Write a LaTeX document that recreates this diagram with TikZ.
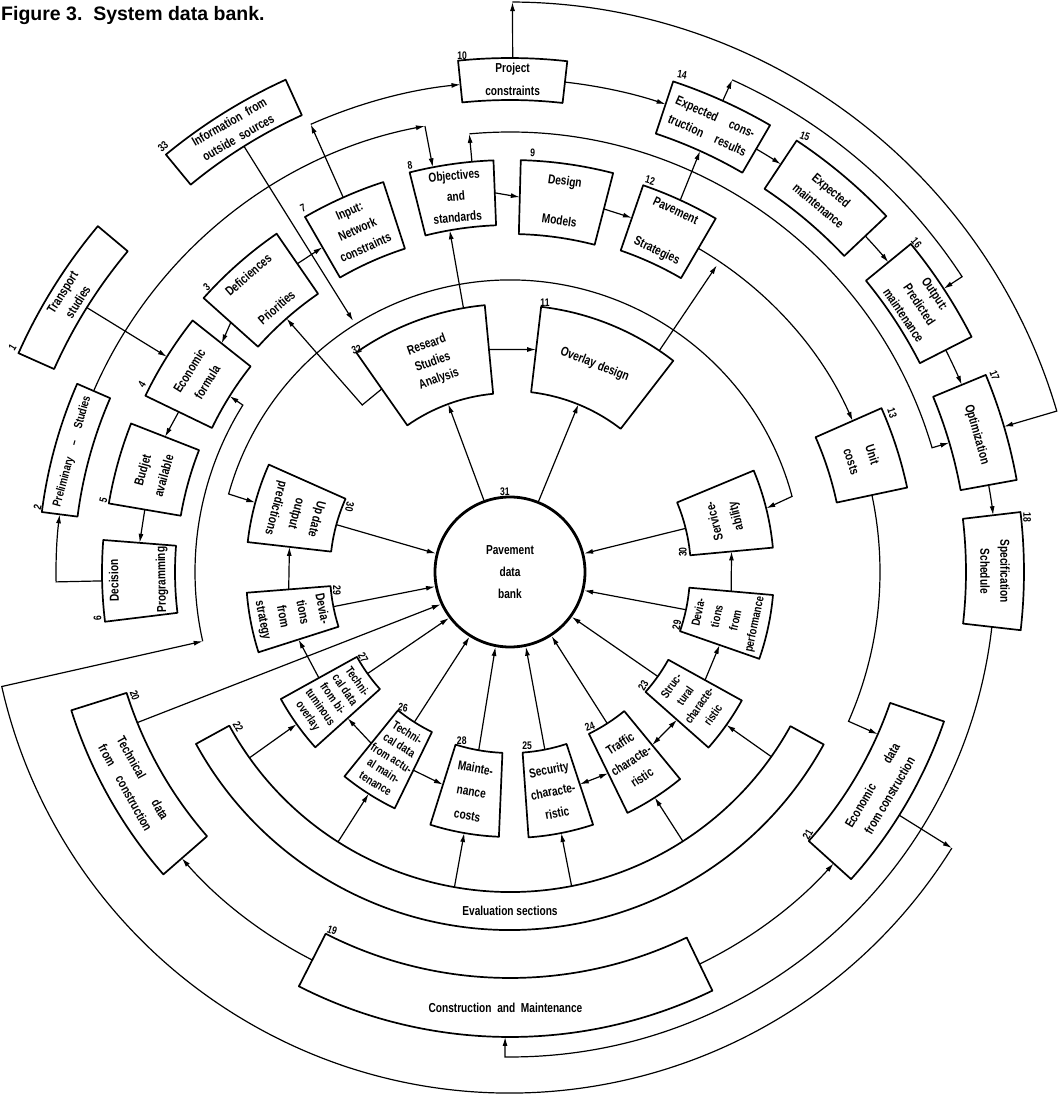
\documentclass[tikz,border=0pt]{standalone}
\usepackage{fontspec}
\setmainfont{Liberation Sans}[FakeStretch=0.78]
\newfontfamily\titlefont{Liberation Sans}
\usetikzlibrary{arrows.meta}

\tikzset{
  boxline/.style={line width=1.7pt, line join=round},
  flow/.style={line width=1.2pt, -{Latex[length=9pt,width=5pt]}},
  twoway/.style={line width=1.2pt, {Latex[length=9pt,width=5pt]}-{Latex[length=9pt,width=5pt]}},
  boxtext/.style={align=center, inner sep=0pt, font=\bfseries\fontsize{13}{17}\selectfont},
  numlbl/.style={inner sep=0pt, font=\bfseries\fontsize{11}{11}\selectfont},
}

% annular box: name, from angle, to angle, inner radius, outer radius
\newcommand{\secbox}[5]{%
  \draw[boxline] (#2:#4) arc[start angle=#2, end angle=#3, radius=#4]
    -- (#3:#5) arc[start angle=#3, end angle=#2, radius=#5] -- cycle;
  \pgfmathsetmacro\secA{(#2+#3)/2}%
  \pgfmathsetmacro\secR{(#4+#5)/2}%
  \coordinate (#1) at (\secA:\secR);
  \coordinate (#1-in) at (\secA:#4);
  \coordinate (#1-out) at (\secA:#5);
  \coordinate (#1-cw) at (#2:\secR);
  \coordinate (#1-ccw) at (#3:\secR);
}

\begin{document}
\begin{tikzpicture}[x=1pt, y=1pt]
\useasboundingbox (-510,-526) rectangle (548,572);

\node[anchor=west, inner sep=0pt, font=\titlefont\bfseries\fontsize{19.5}{19.5}\selectfont]
  (title) at (-509,556) {Figure 3.\ \ System data bank.};

% the data bank
\node[draw, circle, line width=2.8pt, minimum size=150pt, inner sep=0pt,
  align=center, font=\bfseries\fontsize{13}{22}\selectfont] (bank) at (0,0) {Pavement\\data\\bank};

% inner ring
\secbox{b32}{95.4}{125}{179}{268}
\secbox{b11}{52.3}{83.3}{181}{267}
\secbox{b30l}{156}{173.5}{180}{264}
\secbox{b29l}{184.5}{197.7}{180}{264}
\secbox{b27}{209}{222}{175}{262}
\secbox{b26}{231}{244}{178}{263}
\secbox{b28}{252.5}{267.6}{181}{265}
\secbox{b25}{274}{288.2}{181}{266}
\secbox{b24}{296}{309.4}{180}{268}
\secbox{b23}{318.5}{331}{181}{265}
\secbox{b29r}{340.8}{355}{180}{264}
\secbox{b30r}{5.3}{22.6}{181}{264}
% evaluation ring
\secbox{b22}{208.7}{331.2}{320}{358}
% middle ring
\secbox{b3}{124.6}{138.2}{338}{411}
\secbox{b4}{141.6}{154.2}{331}{405}
\secbox{b5}{158.6}{170.3}{334}{407}
\secbox{b6}{175.5}{187}{335}{408}
\secbox{b7}{108}{120}{340}{410}
\secbox{b8}{92.3}{104.1}{347}{412}
\secbox{b9}{75.5}{88.5}{338}{412}
\secbox{b12}{59.8}{71}{340}{409}
\secbox{b13}{12}{23.8}{334}{406}
% outer ring
\secbox{b1}{140}{156}{499}{538}
\secbox{b2}{156.5}{172.7}{436}{472}
\secbox{b33}{114.5}{129.5}{502}{541}
\secbox{b10}{83.6}{95.8}{472}{514}
\secbox{b14}{59.8}{71.6}{462}{517}
\secbox{b15}{43.4}{56.4}{460}{518}
\secbox{b16}{27}{39.3}{460}{518}
\secbox{b17}{10.3}{22.5}{458}{515}
\secbox{b18}{-6.5}{6.7}{456}{514}
\secbox{b21}{-42}{-19}{402}{459}
\secbox{b19}{243}{295.8}{406}{465}
\secbox{b20}{197.5}{221.1}{402}{460}

% texts
\node[boxtext, rotate=20, font=\bfseries\fontsize{13}{18}\selectfont] (t32) at (b32) {Researd\\Studies\\Analysis};
\node[boxtext, rotate=-22] (t11) at (b11) {Overlay design};
\node[boxtext, rotate=-105, font=\bfseries\fontsize{13}{21}\selectfont] (t30l) at (b30l) {Up date\\output\\predictions};
\node[boxtext, rotate=-79, font=\bfseries\fontsize{13}{20}\selectfont] (t29l) at (b29l) {Devia-\\tions\\from\\strategy};
\node[boxtext, rotate=-55, font=\bfseries\fontsize{12}{15}\selectfont] (t27) at (b27) {Techni-\\cal data\\from bi-\\tuminous\\overlay};
\node[boxtext, rotate=-32, font=\bfseries\fontsize{12}{15}\selectfont] (t26) at (b26) {Techni-\\cal data\\from actu-\\al main-\\tenance};
\node[boxtext, rotate=-10, font=\bfseries\fontsize{13}{24}\selectfont] (t28) at (b28) {Mainte-\\nance\\costs};
\node[boxtext, rotate=11, font=\bfseries\fontsize{13}{22}\selectfont] (t25) at (b25) {Security\\characte-\\ristic};
\node[boxtext, rotate=33, font=\bfseries\fontsize{13}{20}\selectfont] (t24) at (b24) {Traffic\\characte-\\ristic};
\node[boxtext, rotate=55, font=\bfseries\fontsize{12}{17}\selectfont] (t23) at (b23) {Struc-\\tural\\characte-\\ristic};
\node[boxtext, rotate=78, font=\bfseries\fontsize{12}{19}\selectfont] (t29r) at (b29r) {Devia-\\tions\\from\\performance};
\node[boxtext, rotate=104, font=\bfseries\fontsize{13}{22}\selectfont] (t30r) at (b30r) {Service-\\ability};
\node[boxtext, rotate=0] (t22) at (270:339) {Evaluation sections};
\node[boxtext, rotate=41] (t3) at (b3) {Deficiences\\[26pt]Priorities};
\node[boxtext, rotate=58, font=\bfseries\fontsize{13}{21}\selectfont] (t4) at (b4) {Economic\\formula};
\node[boxtext, rotate=74.5, font=\bfseries\fontsize{13}{22}\selectfont] (t5) at (b5) {Budjet\\available};
\node[boxtext, rotate=91] (t6) at (b6) {Decision\\[30pt]Programming};
\node[boxtext, rotate=24, font=\bfseries\fontsize{13}{20}\selectfont] (t7) at (b7) {Input:\\Network\\constraints};
\node[boxtext, rotate=5, font=\bfseries\fontsize{13}{21}\selectfont] (t8) at (b8) {Objectives\\and\\standards};
\node[boxtext, rotate=-8] (t9) at (b9) {Design\\[23pt]Models};
\node[boxtext, rotate=-25] (t12) at (b12) {Pavement\\[27pt]Strategies};
\node[boxtext, rotate=-72, font=\bfseries\fontsize{13}{22}\selectfont] (t13) at (b13) {Unit\\costs};
\node[boxtext, rotate=58, font=\bfseries\fontsize{13}{18}\selectfont] (t1) at (b1) {Transport\\studies};
\node[boxtext, rotate=74.6, font=\bfseries\fontsize{12}{15}\selectfont] (t2) at (b2) {Preliminary\quad --\quad Studies};
\node[boxtext, rotate=30, font=\bfseries\fontsize{13}{18}\selectfont] (t33) at (b33) {Information\ \ from\\outside\ \ sources};
\node[boxtext, rotate=0, font=\bfseries\fontsize{13}{23}\selectfont] (t10) at (b10) {Project\\constraints};
\node[boxtext, rotate=-24, font=\bfseries\fontsize{13}{20}\selectfont] (t14) at (b14) {Expected\quad cons-\\truction\quad results};
\node[boxtext, rotate=-40, font=\bfseries\fontsize{13}{20}\selectfont] (t15) at (b15) {Expected\\maintenance};
\node[boxtext, rotate=-56, font=\bfseries\fontsize{13}{19}\selectfont] (t16) at (b16) {Output:\\Predicted\\maintenance};
\node[boxtext, rotate=-74] (t17) at (b17) {Optimization};
\node[boxtext, rotate=-90, font=\bfseries\fontsize{13}{20}\selectfont] (t18) at (b18) {Specification\\Schedule};
\node[boxtext, rotate=0] (t19) at (b19) {Construction\ \ and\ \ Maintenance};
\node[boxtext, rotate=-61, font=\bfseries\fontsize{13}{20}\selectfont] (t20) at (b20) {Technical\qquad data\\from\quad construction};
\node[boxtext, rotate=59.5, font=\bfseries\fontsize{13}{20}\selectfont] (t21) at (b21) {Economic\qquad data\\from construction};

% box numbers
\foreach \n/\a/\r/\t in {1/155.7/546/58, 2/172.2/477/75, 3/136.8/416/41, 4/153/413/58,
  5/170/413/75, 6/186.4/415/91, 7/119.6/419/24, 8/103.8/419/8, 9/86.9/420/-3,
  10/95.3/519/0, 11/82.6/272/0, 12/70.3/416/-15, 13/22.6/414/-72, 14/70.9/526/-10,
  15/55.9/526/-20, 16/39/523/-50, 17/22.1/523/-70, 18/6/520/-90, 19/243.6/400/-20,
  20/198.2/395/-70, 21/318.6/397/60, 22/209.7/313/-60, 23/319.6/175/60,
  24/297.3/174/20, 25/275.6/175/0, 26/231.8/173/-10, 27/210.3/170/-60,
  28/254/175/0, 31/93.6/80/0, 32/124.6/270/20, 33/129.2/549/40}
  \node[numlbl, rotate=\t] (n\n) at (\a:\r) {\n};
\node[numlbl, rotate=-90] (n29l) at (186:174) {29};
\node[numlbl, rotate=80] (n29r) at (342.4:175) {29};
\node[numlbl, rotate=-100] (n30l) at (157.9:173) {30};
\node[numlbl, rotate=90] (n30r) at (6.6:174) {30};

% to and from the bank
\draw[flow] (bank.110) -- (b32-in);
\draw[flow] (bank.68) -- (b11-in);
\foreach \b/\a in {b30l/166, b29l/191, b27/217, b26/238, b28/259, b25/282,
  b24/303, b23/324.5, b29r/346, b30r/14.5}
  \draw[flow] (\b-in) -- (bank.\a);
\coordinate (c20) at (202:402);
\draw[flow] (c20) -- (bank.205);

% evaluation sections feed the inner boxes
\foreach \b/\a in {b27/215.5, b26/237.5, b28/260, b25/281.1, b24/302.7, b23/324.75} {
  \coordinate (e-\b) at (\a:320);
  \draw[flow] (e-\b) -- (\b-out);
}

% inner ring
\draw[flow] (b29l-cw) -- (b30l-ccw);
\draw[flow] (b27-cw) -- (b29l-ccw);
\draw[flow] (b26-cw) -- (b27-ccw);
\draw[flow] (b26-ccw) -- (b28-cw);
\draw[twoway] (b25-ccw) -- (b24-cw);
\draw[twoway] (b24-ccw) -- (b23-cw);
\draw[flow] (b23-ccw) -- (b29r-cw);
\draw[flow] (b29r-ccw) -- (b30r-cw);
\draw[flow] (b32-cw) -- (b11-ccw);
\coordinate (c32a) at (100:268);
\coordinate (c8a) at (100:347);
\draw[flow] (c32a) -- (c8a);
\coordinate (c32b) at (131.5:223);
\draw[flow] (b32-ccw) -- (c32b) -- (b3-in);
\coordinate (c11a) at (56:267);
\coordinate (c11b) at (56:370);
\draw[flow] (c11a) -- (c11b);

% outside information ring
\coordinate (c33a) at (122:296);
\draw[flow] (b33-in) -- (c33a);
\coordinate (c30a) at (15:292);
\draw[twoway] (b30r-out) -- (c30a) arc[start angle=15, end angle=164.5, radius=292] -- (b30l-out);

% middle ring
\draw[flow] (b8-cw) -- (b9-ccw);
\draw[flow] (b9-cw) -- (b12-ccw);
\draw[flow] (b12-out) -- (b14-in);
\draw[flow] (b12-cw) arc[start angle=59.8, end angle=23.8, radius=374.5];
\coordinate (c21a) at (-23.8:402);
\draw[flow] (b13-cw) arc[start angle=12, end angle=-23.8, radius=370] -- (c21a);
\draw[flow] (b3-cw) -- (b7-ccw);
\draw[flow] (b3-ccw) -- (b4-cw);
\draw[flow] (b4-ccw) -- (b5-cw);
\draw[flow] (b5-ccw) -- (b6-cw);
\coordinate (c6a) at (181.25:454);
\draw[flow] (b6-out) -- (c6a) arc[start angle=181.25, end angle=172.7, radius=454];
\draw[flow] (b1-in) -- (b4-out);

% outer ring
\coordinate (c7a) at (114:490);
\draw[flow] (b7-out) -- (c7a);
\draw[flow] (c7a) arc[start angle=114, end angle=95.8, radius=490];
\draw[flow] (b10-cw) arc[start angle=83.6, end angle=71.6, radius=493];
\draw[flow] (b14-cw) arc[start angle=59.8, end angle=56.4, radius=489.5];
\draw[flow] (b15-cw) arc[start angle=43.4, end angle=39.3, radius=489];
\draw[flow] (b16-cw) arc[start angle=27, end angle=22.5, radius=489];
\draw[flow] (b17-cw) arc[start angle=10.3, end angle=6.7, radius=486.5];
\draw[flow] (b18-cw) arc[start angle=-6.5, end angle=-90.6, radius=485] -- (b19-out);
\draw[flow] (b19-cw) arc[start angle=243, end angle=221.1, radius=435.5];
\draw[flow] (b19-ccw) arc[start angle=295.8, end angle=318, radius=435.5];

% economic data back to the formula
\coordinate (c21b) at (-32:459);
\coordinate (c21c) at (-32:521);
\coordinate (c4a) at (192.7:315);
\draw[flow] (c21b) -- (c21c);
\draw[flow] (c21c) arc[start angle=-32, end angle=-167.3, radius=521] -- (c4a);
\draw[flow] (c4a) arc[start angle=192.7, end angle=148, radius=315] -- (b4-in);

% preliminary studies to objectives
\coordinate (c2a) at (100.8:454);
\coordinate (c8b) at (100.8:412);
\draw[flow] (b2-cw) arc[start angle=156.5, end angle=100.8, radius=454];
\draw[flow] (c2a) -- (c8b);

% objectives to optimization
\coordinate (c8c) at (95.3:412);
\coordinate (c8d) at (95.3:440);
\draw[flow] (c8c) -- (c8d);
\draw[flow] (c8d) arc[start angle=95.3, end angle=16.4, radius=440] -- (b17-in);

% project constraints to optimization
\coordinate (c10a) at (89.75:570);
\draw[flow] (b10-out) -- (c10a);
\draw[flow] (c10a) arc[start angle=89.75, end angle=16.4, radius=570] -- (b17-out);

% construction results to predicted maintenance
\coordinate (c14a) at (65.7:540);
\draw[flow] (b14-out) -- (c14a);
\draw[flow] (c14a) arc[start angle=65.7, end angle=33.15, radius=540] -- (b16-out);
\end{tikzpicture}
\end{document}
